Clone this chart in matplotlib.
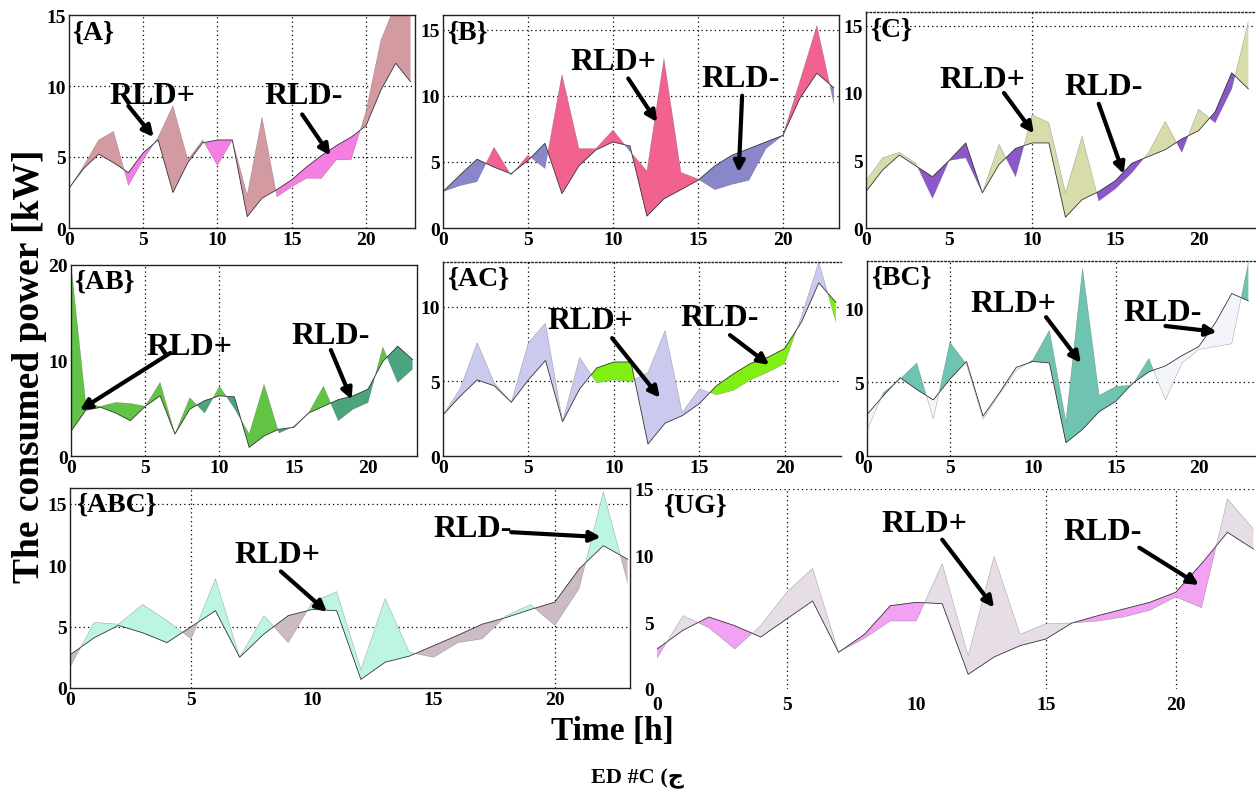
import matplotlib
matplotlib.use("Agg")
import matplotlib.pyplot as plt
import numpy as np

plt.rcParams['font.family'] = ['Liberation Serif', 'DejaVu Sans']
plt.rcParams['font.weight'] = 'bold'
plt.rcParams['font.size'] = 14

hours = list(range(24))

# modified load (RLD) and base load for every bus set
a_mod = [2.8, 4.4, 6.2, 6.8, 3.0, 4.8, 6.4, 8.6, 4.8, 6.2, 4.4, 6.2, 2.3, 7.8, 2.2, 2.9, 3.5, 3.5, 4.8, 4.8, 8.2, 13.2, 15.8, 15.6]
a_base = [2.8, 4.2, 5.2, 4.6, 3.9, 5.3, 6.2, 2.5, 4.6, 6.0, 6.2, 6.2, 0.8, 2.1, 2.7, 3.4, 4.3, 5.1, 5.8, 6.4, 7.2, 9.7, 11.6, 10.3]

b_mod = [2.75, 3.2, 3.5, 6.1, 4.0, 5.5, 4.5, 11.6, 6.0, 6.0, 7.4, 5.8, 4.3, 12.8, 4.2, 3.7, 2.9, 3.3, 3.6, 6.0, 7.0, 11.1, 15.3, 9.4]
b_base = [2.75, 4.0, 5.2, 4.6, 4.1, 5.1, 6.4, 2.6, 4.7, 5.9, 6.5, 6.2, 0.9, 2.2, 2.9, 3.6, 4.7, 5.5, 6.0, 6.5, 7.0, 9.8, 11.7, 10.6]

c_mod = [3.5, 5.2, 5.6, 4.8, 2.2, 5.0, 5.2, 2.6, 6.2, 3.8, 8.4, 7.8, 2.6, 6.8, 2.0, 2.9, 4.1, 5.6, 7.9, 5.6, 8.8, 7.8, 10.3, 15.3]
c_base = [2.7, 4.3, 5.4, 4.6, 3.8, 5.0, 6.3, 2.6, 4.7, 5.9, 6.3, 6.3, 0.8, 2.1, 2.7, 3.5, 4.8, 5.3, 5.8, 6.6, 7.2, 8.6, 11.5, 10.3]

ab_mod = [20.0, 5.4, 5.2, 5.6, 5.5, 5.2, 7.7, 2.3, 6.1, 4.5, 7.3, 5.0, 2.3, 7.5, 2.4, 3.1, 4.5, 7.3, 3.7, 4.9, 5.6, 11.4, 7.7, 9.1]
ab_base = [2.6, 4.8, 5.1, 4.5, 3.7, 5.2, 6.3, 2.3, 4.9, 5.8, 6.3, 6.2, 0.9, 2.1, 2.8, 3.0, 4.5, 5.2, 5.9, 6.3, 7.0, 9.9, 11.5, 10.1]

ac_mod = [2.75, 4.5, 7.6, 4.9, 3.6, 7.6, 8.9, 2.3, 6.6, 4.9, 5.1, 5.0, 5.6, 8.4, 2.9, 4.5, 4.1, 4.4, 5.1, 5.6, 6.2, 9.4, 13.0, 9.0]
ac_base = [2.75, 4.0, 5.1, 4.7, 3.6, 5.1, 6.4, 2.3, 4.5, 5.9, 6.3, 6.3, 0.8, 2.2, 2.7, 3.5, 4.7, 5.5, 6.2, 6.6, 7.2, 9.0, 11.6, 10.3]

bc_mod = [1.7, 4.3, 5.2, 6.3, 2.5, 7.7, 6.2, 2.5, 4.2, 5.8, 6.5, 8.5, 2.3, 12.7, 4.1, 4.7, 4.8, 6.6, 3.8, 6.3, 7.2, 7.4, 7.6, 13.1]
bc_base = [2.8, 4.1, 5.3, 4.5, 3.8, 5.2, 6.4, 2.7, 4.3, 6.0, 6.4, 6.3, 0.9, 1.8, 3.0, 3.7, 4.9, 5.7, 6.1, 6.8, 7.4, 9.0, 11.0, 10.5]

abc_mod = [1.7, 5.35, 5.2, 6.8, 5.5, 4.0, 8.9, 2.5, 5.9, 3.7, 7.0, 7.85, 1.5, 7.3, 2.9, 2.5, 3.7, 4.0, 5.9, 6.8, 5.1, 8.1, 16.0, 8.6]
abc_base = [2.7, 4.1, 5.1, 4.5, 3.7, 5.0, 6.3, 2.5, 4.4, 5.9, 6.4, 6.3, 0.7, 2.1, 2.6, 3.45, 4.3, 5.2, 5.75, 6.4, 7.0, 9.7, 11.6, 10.5]

ug_mod = [2.3, 5.5, 4.6, 3.0, 4.75, 7.25, 9.05, 2.75, 3.8, 5.1, 5.1, 9.4, 2.5, 9.95, 4.1, 4.9, 4.95, 5.1, 5.4, 5.9, 6.9, 6.1, 14.25, 12.0]
ug_base = [3.0, 4.4, 5.4, 4.75, 3.9, 5.25, 6.6, 2.75, 4.1, 6.25, 6.5, 6.4, 1.1, 2.4, 3.25, 3.75, 4.95, 5.5, 6.0, 6.5, 7.25, 9.4, 11.75, 10.5]

W, H = 1256, 803
fig = plt.figure(figsize=(W / 100, H / 100), dpi=100)


def make_ax(l, r, t, b):
    return fig.add_axes([l / W, 1 - b / H, (r - l) / W, (b - t) / H])


def panel(ax, mod, base, c_pos, c_neg, label, xmax, ymax, yticks, xgrid, ygrid):
    x = np.array(hours)
    m = np.array(mod)
    s = np.array(base)
    ax.fill_between(x, m, s, where=m >= s, interpolate=True, color=c_pos, lw=0)
    ax.fill_between(x, m, s, where=m < s, interpolate=True, color=c_neg, lw=0)
    ax.plot(x, s, color='#333333', lw=0.6)
    ax.plot(x, m, color='#555555', lw=0.3, alpha=0.6)
    ax.set_xlim(0, xmax)
    ax.set_ylim(0, ymax)
    ax.set_xticks([0, 5, 10, 15, 20])
    ax.set_yticks(yticks)
    ax.tick_params(length=0, pad=2, labelsize=14)
    for g in xgrid:
        ax.axvline(g, color='black', ls=(0, (1, 2.5)), lw=0.9, zorder=0.5)
    for g in ygrid:
        ax.axhline(g, color='black', ls=(0, (1, 2.5)), lw=0.9, zorder=0.5)
    ax.text(0.01, 0.98, label, transform=ax.transAxes, ha='left', va='top',
            fontsize=20, fontweight='bold')
    for sp in ax.spines.values():
        sp.set_linewidth(1.0)
        sp.set_color('#222222')


def rld(ax, text, txy, start, tip):
    ax.text(txy[0], txy[1], text, ha='center', va='center', fontsize=23,
            fontweight='bold', zorder=5)
    ax.annotate('', xy=tip, xytext=start,
                arrowprops=dict(arrowstyle='-|>', color='black', lw=3,
                                mutation_scale=16, shrinkA=0, shrinkB=0),
                zorder=5)


# row 1
ax = make_ax(69, 415, 16, 229)
panel(ax, a_mod, a_base, '#d49aa2', '#f47ee2', '{A}', 23.3, 15, [0, 5, 10, 15], [5, 10, 15, 20], [5, 10])
rld(ax, 'RLD+', (5.6, 9.3), (4.0, 8.6), (5.7, 6.4))
rld(ax, 'RLD-', (15.8, 9.3), (15.7, 8.0), (17.6, 5.1))

ax = make_ax(443, 839, 16, 229)
panel(ax, b_mod, b_base, '#f2628e', '#8a86cc', '{B}', 23.3, 16.1, [0, 5, 10, 15], [5, 10, 15, 20], [5, 10, 15])
rld(ax, 'RLD+', (10.0, 12.6), (10.9, 11.3), (12.6, 8.0))
rld(ax, 'RLD-', (17.5, 11.3), (17.6, 10.0), (17.4, 4.2))

ax = make_ax(866, 1255, 13, 229)
panel(ax, c_mod, c_base, '#d8dcaa', '#8a58c8', '{C}', 23.4, 16.0, [0, 5, 10, 15], [10], [15])
ax.spines['top'].set_linestyle(':')
ax.spines['right'].set_visible(False)
rld(ax, 'RLD+', (7.0, 11.0), (8.3, 10.0), (10.1, 7.0))
rld(ax, 'RLD-', (14.3, 10.5), (14.0, 9.2), (15.5, 4.0))

# row 2
ax = make_ax(71, 417, 266, 457)
panel(ax, ab_mod, ab_base, '#62c444', '#4aa47e', '{AB}', 23.3, 20, [0, 10, 20], [5, 10], [])
rld(ax, 'RLD+', (8.0, 11.5), (6.7, 10.8), (0.6, 4.8))
rld(ax, 'RLD-', (17.5, 12.6), (17.5, 11.1), (18.9, 5.9))

ax = make_ax(443, 841, 263, 457)
panel(ax, ac_mod, ac_base, '#cacaee', '#80f012', '{AC}', 23.3, 13.0, [0, 5, 10], [5, 10, 15, 20], [5, 10])
ax.spines['top'].set_linestyle(':')
ax.spines['right'].set_visible(False)
rld(ax, 'RLD+', (8.6, 9.1), (9.9, 7.9), (12.7, 3.9))
rld(ax, 'RLD-', (16.2, 9.3), (16.8, 8.1), (19.1, 6.1))

ax = make_ax(867, 1255, 262, 457)
panel(ax, bc_mod, bc_base, '#6ec4b0', '#f3f5fb', '{BC}', 23.4, 13.2, [0, 5, 10], [5, 15], [5])
ax.spines['top'].set_linestyle(':')
ax.spines['right'].set_visible(False)
rld(ax, 'RLD+', (8.8, 10.3), (10.8, 9.4), (12.9, 6.3))
rld(ax, 'RLD-', (17.8, 9.7), (18.0, 8.8), (21.1, 8.4))

# row 3
ax = make_ax(70, 630, 489, 689)
panel(ax, abc_mod, abc_base, '#bcf6e2', '#ccbac4', '{ABC}', 23.1, 16.3, [0, 5, 10, 15], [5, 20], [5, 15])
rld(ax, 'RLD+', (8.55, 10.9), (8.7, 9.5), (10.6, 6.2))
rld(ax, 'RLD-', (16.6, 13.0), (18.2, 12.7), (21.9, 12.3))

ax = make_ax(657, 1256, 490, 690)
panel(ax, ug_mod, ug_base, '#e6dde6', '#f2a2f2', '{UG}', 23.1, 15, [0, 5, 10, 15], [5, 15, 20], [15])
for sp in ax.spines.values():
    sp.set_visible(False)
ax.tick_params(axis='x', pad=5)
rld(ax, 'RLD+', (10.3, 12.4), (11.0, 11.2), (13.0, 6.1))
rld(ax, 'RLD-', (17.2, 11.8), (18.6, 10.6), (20.9, 7.8))

fig.text(30 / W, 1 - 366 / H, 'The consumed power [kW]', rotation=90,
         ha='center', va='center', fontsize=27, fontweight='bold')
fig.text(612 / W, 1 - 732 / H, 'Time [h]', ha='center', va='center',
         fontsize=24, fontweight='bold')
fig.text(637 / W, 1 - 779 / H, 'ED #C (ج', ha='center', va='center',
         fontsize=16, fontweight='bold')

fig.savefig('out.png', dpi=100)
